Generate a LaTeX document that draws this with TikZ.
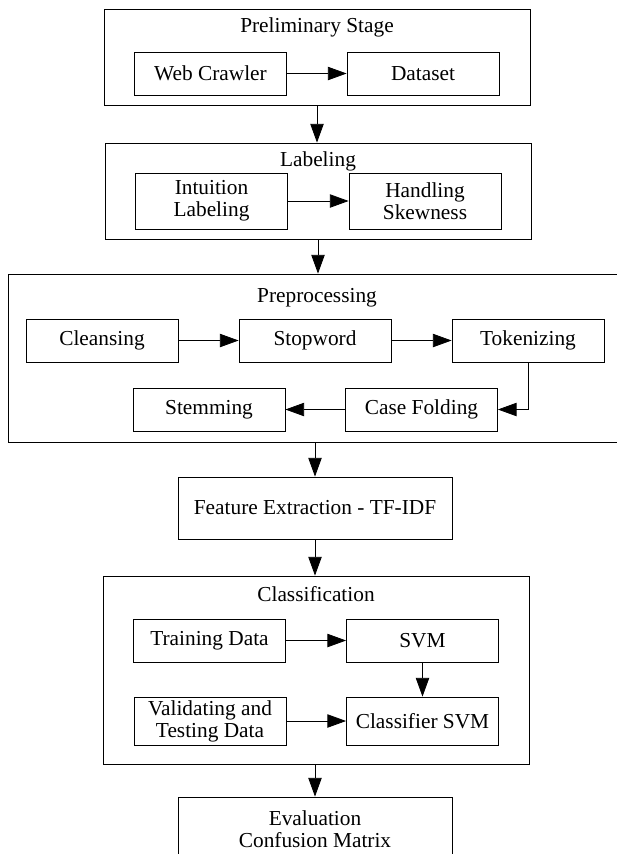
\documentclass[tikz,border=0pt]{standalone}
\usepackage{fontspec}
\setmainfont{Liberation Serif}
\usetikzlibrary{arrows.meta, positioning}

\begin{document}
\begin{tikzpicture}[x=0.75pt, y=-0.75pt, line width=0.6pt,
    font=\fontsize{16}{16.5}\selectfont,
    >={Triangle[length=14pt, width=10pt]},
    stage/.style={draw, minimum width=426*0.75pt, inner sep=0pt},
    stagetitle/.style={inner sep=0pt},
    block/.style={draw, align=center, minimum width=152*0.75pt,
        minimum height=43*0.75pt, inner sep=0pt}]

    \useasboundingbox (0,0) rectangle (617,854);

    % Group frames
    \node[stage, minimum height=96*0.75pt] (prelim) at (317,57) {};
    \node[stage, minimum height=96*0.75pt] (label) at (318,191) {};
    \node[stage, minimum width=618*0.75pt, minimum height=168*0.75pt] (prep) at (317,358) {};
    \node[draw, minimum width=274*0.75pt, minimum height=62*0.75pt] (feat) at (315,508) {Feature Extraction - TF-IDF};
    \node[stage, minimum height=188*0.75pt] (class) at (316,670) {};
    \node[draw, align=center, minimum width=274*0.75pt, minimum height=64*0.75pt] (eval) at (315,829) {Evaluation\\Confusion Matrix};

    % Group titles
    \node[stagetitle] (prelimtitle) at (317,27) {Preliminary Stage};
    \node[stagetitle] (labeltitle) at (318,161) {Labeling};
    \node[stagetitle] (preptitle) at (317,298) {Preprocessing};
    \node[stagetitle] (classtitle) at (316,594) {Classification};

    % Inner steps
    \node[block] (web) at (210.5,73.5) {Web Crawler};
    \node[block] (data) at (423,73.5) {Dataset};
    \node[block, minimum height=56*0.75pt] (intu) at (211.5,201) {Intuition\\Labeling};
    \node[block, minimum height=56*0.75pt] (skew) at (425,201) {Handling\\Skewness};
    \node[block] (clean) at (102,340.5) {Cleansing};
    \node[block] (stop) at (315,340.5) {Stopword};
    \node[block] (token) at (528,340.5) {Tokenizing};
    \node[block] (stem) at (209,409.5) {Stemming};
    \node[block] (case) at (421.5,409.5) {Case Folding};
    \node[block] (train) at (209.5,640.5) {Training Data};
    \node[block] (svm) at (422.5,640.5) {SVM};
    \node[block, minimum height=48*0.75pt] (valid) at (210,721) {Validating and\\Testing Data};
    \node[block, minimum height=48*0.75pt] (clsvm) at (422.5,721) {Classifier SVM};

    % Flow inside the groups
    \draw[->] (web) -- (data);
    \draw[->] (intu) -- (skew);
    \draw[->] (clean) -- (stop);
    \draw[->] (stop) -- (token);
    \draw[->] (token.south) |- (case.east);
    \draw[->] (case) -- (stem);
    \draw[->] (train) -- (svm);
    \draw[->] (svm) -- (clsvm);
    \draw[->] (valid) -- (clsvm);

    % Flow between the groups
    \draw[->] (prelim.south) -- (prelim.south |- label.north);
    \draw[->] (label.south) -- (label.south |- prep.north);
    \draw[->] (feat.north |- prep.south) -- (feat.north);
    \draw[->] (feat.south) -- (feat.south |- class.north);
    \draw[->] (eval.north |- class.south) -- (eval.north);

\end{tikzpicture}
\end{document}
